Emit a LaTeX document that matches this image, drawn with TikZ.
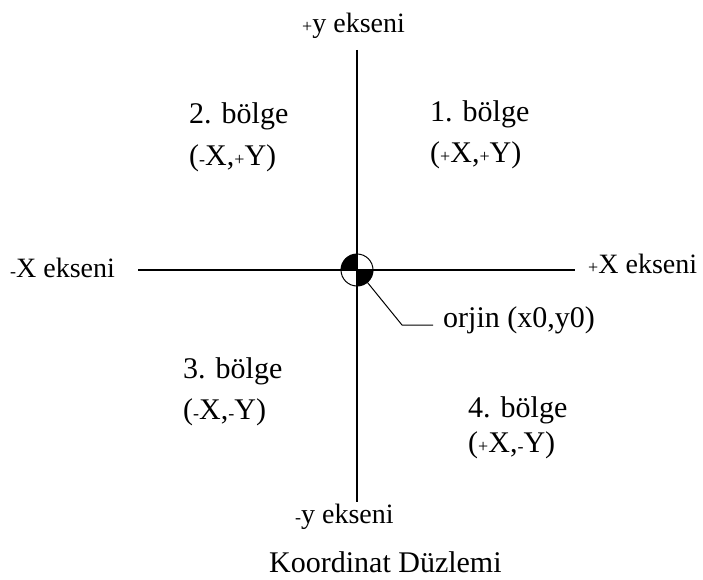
\documentclass[tikz,border=0pt]{standalone}
\usepackage{fontspec}
\setmainfont{Liberation Serif}
\newcommand{\sgn}[1]{{\fontsize{18}{18}\selectfont #1}}
\begin{document}
\begin{tikzpicture}[x=1pt,y=-1pt,
  axis/.style={line width=1.2pt},
  lbl/.style={anchor=base west,inner sep=0pt,font=\fontsize{30}{36}\selectfont},
  axlbl/.style={anchor=base west,inner sep=0pt,font=\fontsize{28}{34}\selectfont},
  leader/.style={line width=1pt}]
\useasboundingbox (0,0) rectangle (703,580);
% axes
\coordinate (ytop) at (357,50);
\coordinate (ybot) at (357,502);
\coordinate (xl) at (138,270);
\coordinate (xr) at (575,270);
% origin marker
\node[circle,minimum size=32pt,inner sep=0pt] (o) at (357,270) {};
\fill[black] (o.center) -- (o.west) arc[start angle=180,end angle=90,radius=16pt] -- cycle;
\fill[black] (o.center) -- (o.east) arc[start angle=0,end angle=-90,radius=16pt] -- cycle;
\draw[line width=1pt] (o.center) circle[radius=16pt];
\draw[axis] (ytop) -- (ybot);
\draw[axis] (xl) -- (xr);
% axis labels
\node[axlbl] (yp) at (302,33) {\sgn{+}y ekseni};
\node[axlbl] (yn) at (295,523) {\sgn{-}y ekseni};
\node[axlbl] (xn) at (10,277) {\sgn{-}X ekseni};
\node[axlbl] (xp) at (588,273) {\sgn{+}X ekseni};
% quadrant labels
\node[lbl] (q1) at (430,122) {1. bölge};
\node[lbl] (q1c) at (430,163) {(\sgn{+}X,\sgn{+}Y)};
\node[lbl] (q2) at (189,124) {2. bölge};
\node[lbl] (q2c) at (189,165) {(\sgn{-}X,\sgn{+}Y)};
\node[lbl] (q3) at (183,378) {3. bölge};
\node[lbl] (q3c) at (183,419) {(\sgn{-}X,\sgn{-}Y)};
\node[lbl] (q4) at (468,417) {4. bölge};
\node[lbl] (q4c) at (468,452) {(\sgn{+}X,\sgn{-}Y)};
% origin label and leader
\node[lbl,anchor=west] (orj) at (443,320) {orjin (x0,y0)};
\coordinate (bend) at (402,325);
\coordinate (lend) at (433,325);
\draw[leader] (o.-50) -- (bend) -- (lend);
% caption
\node[lbl] (cap) at (269,572) {Koordinat Düzlemi};
\end{tikzpicture}
\end{document}
